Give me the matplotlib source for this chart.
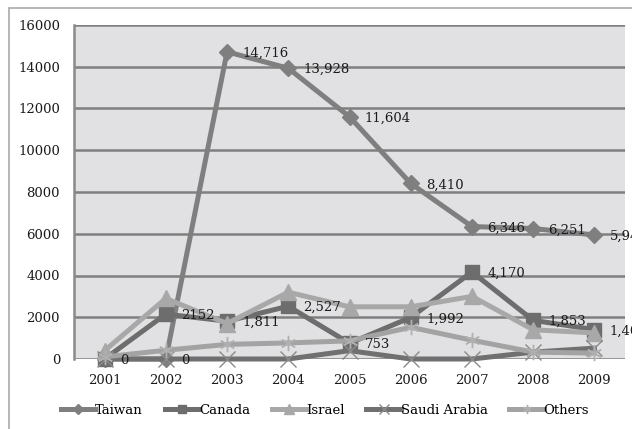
import numpy as np
import matplotlib
matplotlib.use("Agg")
import matplotlib.pyplot as plt
from matplotlib.patches import Rectangle

years = ["2001", "2002", "2003", "2004", "2005", "2006", "2007", "2008", "2009"]

taiwan = [0, 0, 14716, 13928, 11604, 8410, 6346, 6251, 5942]
canada = [0, 2152, 1811, 2527, 753, 1992, 4170, 1853, 1406]
israel = [400, 2900, 1700, 3200, 2500, 2500, 3000, 1400, 1250]
saudi_arabia = [0, 0, 0, 0, 400, 0, 0, 330, 520]
others = [100, 420, 700, 770, 870, 1520, 900, 330, 280]

taiwan_labels = [None, "0", "14,716", "13,928", "11,604", "8,410", "6,346", "6,251", "5,942"]
canada_labels = ["0", "2152", "1,811", "2,527", "753", "1,992", "4,170", "1,853", "1,406"]

W, H, DPI = 632, 429, 100
FS = 9.5
fig = plt.figure(figsize=(W / DPI, H / DPI), dpi=DPI)
plt.rcParams["font.family"] = ["DejaVu Serif"]

# outer chart-area border (left and top edges visible)
fig.patches.append(Rectangle((9 / W, -0.1), 1.2, 1.1 - 8 / H, transform=fig.transFigure,
                             fill=False, edgecolor="#a9a9a9", linewidth=1.2))

ax = fig.add_axes([74 / W, 1 - 359 / H, (625 - 74) / W, (359 - 25) / H])
ax.set_facecolor("#e1e1e4")

x = np.arange(len(years))
series = [
    ("Taiwan", taiwan, "#7f7f7f", "D", 8, "#7f7f7f"),
    ("Canada", canada, "#6d6d6d", "s", 10, "#6d6d6d"),
    ("Israel", israel, "#a8a8a8", "^", 11, "#a8a8a8"),
    ("Saudi Arabia", saudi_arabia, "#707070", "x", 11, "#8a8a8a"),
    ("Others", others, "#a3a3a3", (6, 2, 0), 11, "#b0b0b0"),
]
for name, vals, col, mk, ms, mcol in series:
    ax.plot(x, vals, color=col, linewidth=3.6, marker=mk, markersize=ms,
            markerfacecolor=mcol, markeredgecolor=mcol, markeredgewidth=1.0,
            label=name, solid_joinstyle="miter", clip_on=False, zorder=3)

for vals, labels in ((taiwan, taiwan_labels), (canada, canada_labels)):
    for xi, v, lab in zip(x, vals, labels):
        if lab is None:
            continue
        ax.annotate(lab, (xi, v), xytext=(11, -1), textcoords="offset points",
                    ha="left", va="center", fontsize=FS, color="#1a1a1a",
                    annotation_clip=False, zorder=5)

ax.set_xlim(-0.5, 8.5)
ax.set_ylim(0, 16000)
ax.set_yticks(np.arange(0, 16001, 2000))
ax.set_yticklabels([str(v) for v in range(0, 16001, 2000)])
ax.set_xticks(x)
ax.set_xticklabels(years)
ax.yaxis.grid(True, color="#7f7f7f", linewidth=1.8)
ax.set_axisbelow(True)
ax.tick_params(length=0, labelsize=FS, colors="#1a1a1a")
ax.tick_params(axis="y", pad=10)
ax.tick_params(axis="x", pad=11)
for s in ("top", "right", "bottom"):
    ax.spines[s].set_visible(False)
ax.spines["left"].set_color("#8a8a8a")
ax.spines["left"].set_linewidth(1.8)

leg = fig.legend(loc="center", bbox_to_anchor=(325 / W, 1 - 410 / H), ncol=5,
                 frameon=False, fontsize=FS, handlelength=2.6, handletextpad=0.0,
                 columnspacing=1.65, markerscale=0.6)

fig.savefig("out.png", dpi=DPI)
